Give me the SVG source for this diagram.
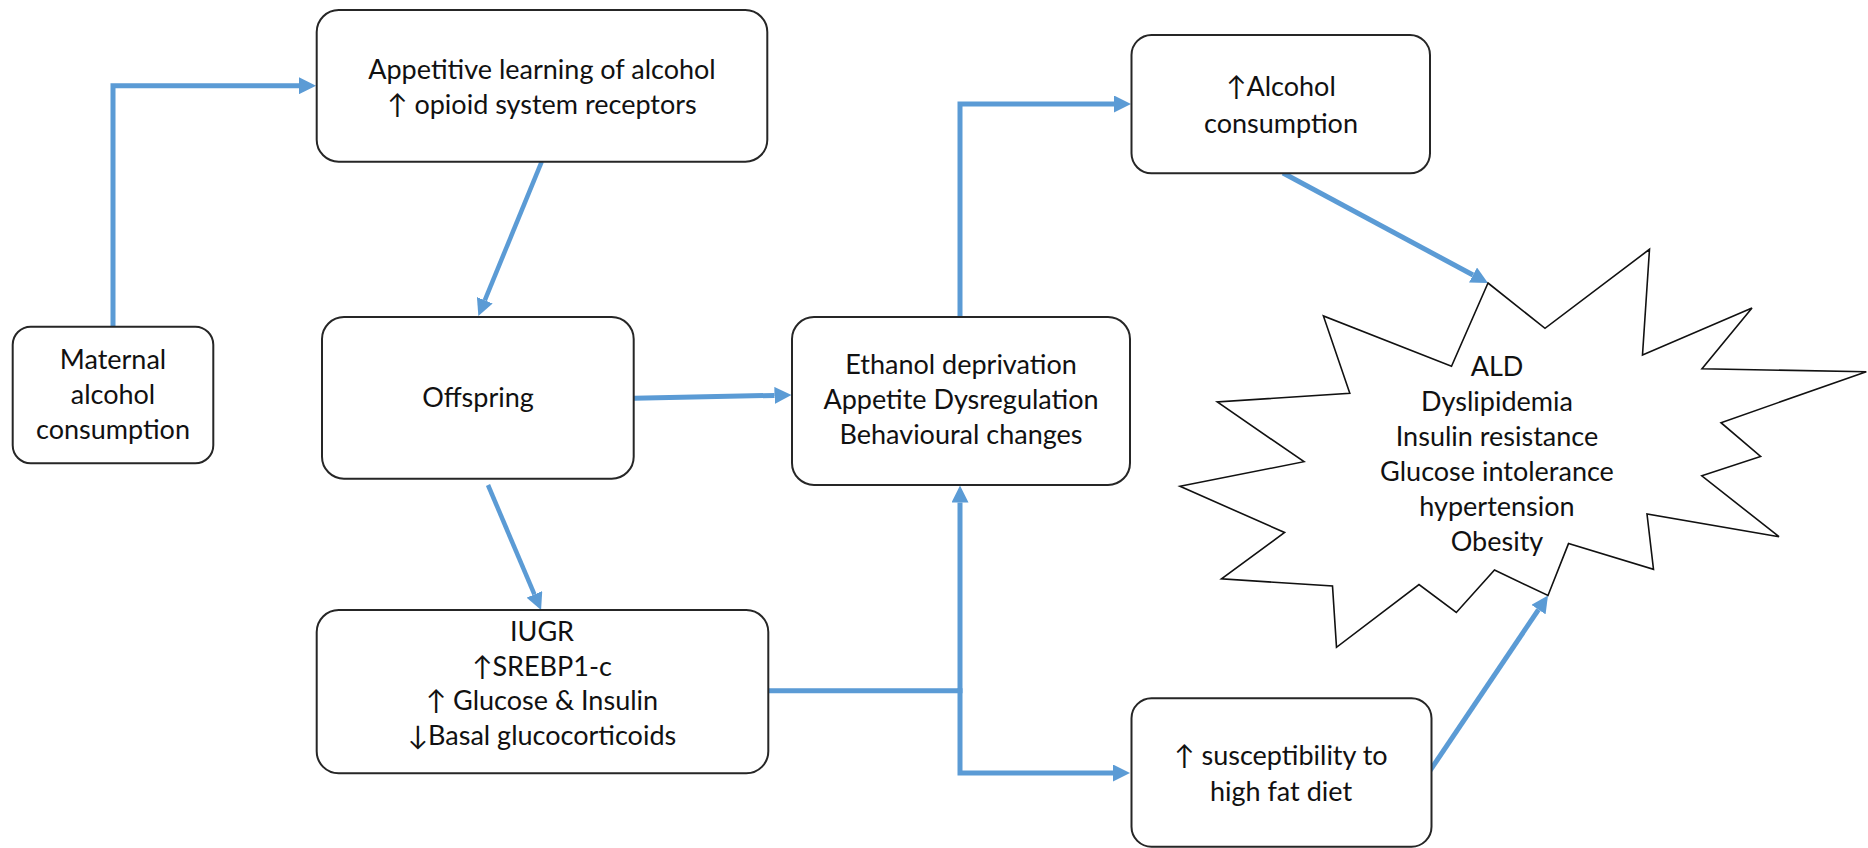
<svg xmlns="http://www.w3.org/2000/svg" width="1868" height="848" viewBox="0 0 1868 848">
  <style>
    .box { fill: #ffffff; stroke: #262626; stroke-width: 2; }
    .star { fill: #ffffff; stroke: #111111; stroke-width: 1.6; stroke-linejoin: miter; }
    .lbl { font-family: Lato, "Open Sans", "Liberation Sans", sans-serif; font-size: 27px; fill: #111111; text-anchor: middle; }
    .conn { fill: none; stroke: #5B9BD5; stroke-width: 5; stroke-linejoin: miter; stroke-linecap: butt; }
    .thin { stroke-width: 4.5; }
  </style>
  <defs>
    <marker id="arrow" viewBox="0 0 17 17" refX="0" refY="8.5" markerWidth="17" markerHeight="17" markerUnits="userSpaceOnUse" orient="auto">
      <path d="M0,0 L17,8.5 L0,17 z" fill="#5B9BD5"/>
    </marker>
  </defs>
  <rect width="1868" height="848" fill="#ffffff"/>

  <g id="connectors">
    <path class="conn" d="M113 327 V85.7 H299" marker-end="url(#arrow)"/>
    <path class="conn thin" d="M541.7 161.7 L484.8 300.3" marker-end="url(#arrow)"/>
    <path class="conn" d="M634 398.3 L774.5 395.4" marker-end="url(#arrow)"/>
    <path class="conn" d="M960 317 V104 H1114" marker-end="url(#arrow)"/>
    <path class="conn" d="M1283 173 L1473 275" marker-end="url(#arrow)"/>
    <path class="conn thin" d="M488 485 L534.4 594.4" marker-end="url(#arrow)"/>
    <path class="conn" d="M768 690.7 H960 V502.5" marker-end="url(#arrow)"/>
    <path class="conn" d="M960 688.2 V773 H1113" marker-end="url(#arrow)"/>
    <path class="conn" d="M1430 770.7 L1538.5 609.6" marker-end="url(#arrow)"/>
  </g>

  <g id="maternal">
    <rect class="box" x="12.7" y="326.7" width="200.6" height="136.6" rx="18"/>
    <text class="lbl" x="113" y="369">Maternal</text>
    <text class="lbl" x="113" y="404">alcohol</text>
    <text class="lbl" x="113" y="439">consumption</text>
  </g>

  <g id="appetitive">
    <rect class="box" x="316.7" y="10" width="450.6" height="151.7" rx="22"/>
    <text class="lbl" x="542" y="79">Appetitive learning of alcohol</text>
    <text class="lbl" x="542" y="114">↑ opioid system receptors</text>
  </g>

  <g id="offspring">
    <rect class="box" x="322" y="317" width="311.7" height="161.7" rx="22"/>
    <text class="lbl" x="478" y="407">Offspring</text>
  </g>

  <g id="ethanol">
    <rect class="box" x="792" y="317" width="338" height="168" rx="22"/>
    <text class="lbl" x="961" y="374">Ethanol deprivation</text>
    <text class="lbl" x="961" y="409">Appetite Dysregulation</text>
    <text class="lbl" x="961" y="444">Behavioural changes</text>
  </g>

  <g id="alcohol">
    <rect class="box" x="1131.5" y="35" width="298.5" height="138.3" rx="20"/>
    <text class="lbl" x="1281" y="96">↑Alcohol</text>
    <text class="lbl" x="1281" y="133">consumption</text>
  </g>

  <g id="iugr">
    <rect class="box" x="316.7" y="610" width="451.6" height="163.3" rx="22"/>
    <text class="lbl" x="542" y="641">IUGR</text>
    <text class="lbl" x="542" y="676">↑SREBP1-c</text>
    <text class="lbl" x="542" y="710">↑ Glucose &amp; Insulin</text>
    <text class="lbl" x="542" y="745">↓Basal glucocorticoids</text>
  </g>

  <g id="susceptibility">
    <rect class="box" x="1131.5" y="698.3" width="300" height="148.4" rx="20"/>
    <text class="lbl" x="1281" y="765">↑ susceptibility to</text>
    <text class="lbl" x="1281" y="801">high fat diet</text>
  </g>

  <g id="outcomes">
    <polygon class="star" points="1488,283 1545,328.3 1649.5,249.3 1642.5,355 1752,308 1702,368.8 1866.3,371.7 1721,422.7 1760.6,456.4 1701.8,475.8 1779,536.7 1647,514 1653.5,569.3 1568.5,543.6 1548,595.5 1494.5,570 1456.3,612.5 1419,584.5 1336.5,647.3 1332.5,586 1221.5,578.8 1284.6,532.5 1180,486.3 1304,461.7 1217.3,402 1349.8,393.3 1323.4,316 1451.5,366.3"/>
    <text class="lbl" x="1497" y="376">ALD</text>
    <text class="lbl" x="1497" y="411">Dyslipidemia</text>
    <text class="lbl" x="1497" y="446">Insulin resistance</text>
    <text class="lbl" x="1497" y="481">Glucose intolerance</text>
    <text class="lbl" x="1497" y="516">hypertension</text>
    <text class="lbl" x="1497" y="551">Obesity</text>
  </g>
</svg>
